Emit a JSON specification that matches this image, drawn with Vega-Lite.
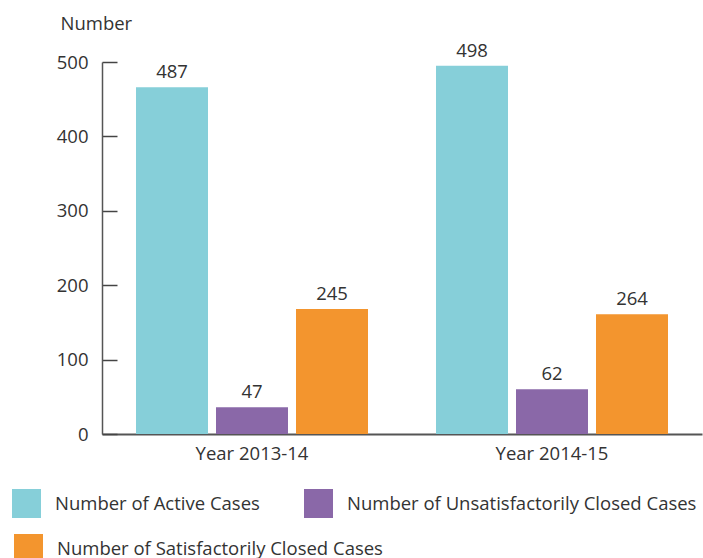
{
  "$schema": "https://vega.github.io/schema/vega-lite/v6.json",
  "width": 600,
  "height": 372,
  "autosize": {"type": "none"},
  "padding": {"left": 102, "top": 62, "right": 1, "bottom": 124},
  "background": "white",
  "config": {
    "view": {"stroke": null},
    "font": "Open Sans",
    "text": {"font": "Open Sans"}
  },
  "data": {
    "values": [
      {"year": "Year 2013-14", "series": "Number of Active Cases", "value": 466, "label": "487"},
      {"year": "Year 2013-14", "series": "Number of Unsatisfactorily Closed Cases", "value": 36, "label": "47"},
      {"year": "Year 2013-14", "series": "Number of Satisfactorily Closed Cases", "value": 168, "label": "245"},
      {"year": "Year 2014-15", "series": "Number of Active Cases", "value": 495, "label": "498"},
      {"year": "Year 2014-15", "series": "Number of Unsatisfactorily Closed Cases", "value": 60, "label": "62"},
      {"year": "Year 2014-15", "series": "Number of Satisfactorily Closed Cases", "value": 161, "label": "264"}
    ]
  },
  "encoding": {
    "x": {
      "field": "year", "type": "nominal",
      "scale": {"paddingInner": 0, "paddingOuter": 0},
      "axis": {
        "title": null, "labelAngle": 0, "ticks": false,
        "domainColor": "#555555", "domainWidth": 2,
        "labelFontSize": 18.5, "labelColor": "#333333", "labelPadding": 10,
        "labelFont": "Open Sans"
      }
    },
    "xOffset": {
      "field": "series", "type": "nominal",
      "scale": {
        "domain": ["Number of Active Cases", "Number of Unsatisfactorily Closed Cases", "Number of Satisfactorily Closed Cases"],
        "paddingInner": 0.1, "paddingOuter": 0.425
      }
    },
    "y": {
      "field": "value", "type": "quantitative",
      "scale": {"domain": [0, 500], "nice": false},
      "axis": {
        "title": "Number", "titleAngle": 0, "titleAlign": "left", "titleBaseline": "middle",
        "titleX": -42, "titleY": -39, "titleFontSize": 18.5, "titleFontWeight": "normal",
        "titleColor": "#333333", "titleFont": "Open Sans",
        "values": [0, 100, 200, 300, 400, 500],
        "grid": false, "tickSize": -15, "tickColor": "#444444", "tickWidth": 1.5,
        "domainColor": "#555555", "domainWidth": 1.5,
        "labelFontSize": 18.5, "labelColor": "#333333", "labelPadding": 29,
        "labelFont": "Open Sans"
      }
    }
  },
  "layer": [
    {
      "transform": [{"filter": "datum.series !== 'Number of Satisfactorily Closed Cases'"}],
      "mark": {"type": "bar"},
      "encoding": {
        "color": {
          "field": "series", "type": "nominal",
          "scale": {
            "domain": ["Number of Active Cases", "Number of Unsatisfactorily Closed Cases"],
            "range": ["#86CFD9", "#8A68A8"]
          },
          "legend": {
            "title": null, "orient": "none", "legendX": -90, "legendY": 427,
            "direction": "horizontal",
            "symbolType": "square", "symbolSize": 841, "symbolStrokeWidth": 0,
            "symbolOpacity": 1,
            "labelFontSize": 18.5, "labelColor": "#333333", "labelFont": "Open Sans",
            "labelOffset": 14, "labelLimit": 500,
            "columnPadding": 44, "padding": 0
          }
        }
      }
    },
    {
      "transform": [{"filter": "datum.series === 'Number of Satisfactorily Closed Cases'"}],
      "mark": {"type": "bar"},
      "encoding": {
        "fill": {
          "field": "series", "type": "nominal",
          "scale": {
            "domain": ["Number of Satisfactorily Closed Cases"],
            "range": ["#F3952E"]
          },
          "legend": {
            "title": null, "orient": "none", "legendX": -88, "legendY": 472,
            "direction": "horizontal",
            "symbolType": "square", "symbolSize": 841, "symbolStrokeWidth": 0,
            "symbolOpacity": 1,
            "labelFontSize": 18.5, "labelColor": "#333333", "labelFont": "Open Sans",
            "labelOffset": 14, "labelLimit": 500, "padding": 0
          }
        }
      }
    },
    {
      "mark": {"type": "text", "baseline": "middle", "dy": -15, "fontSize": 18.5, "color": "#333333", "font": "Open Sans"},
      "encoding": {
        "text": {"field": "label"}
      }
    }
  ]
}
